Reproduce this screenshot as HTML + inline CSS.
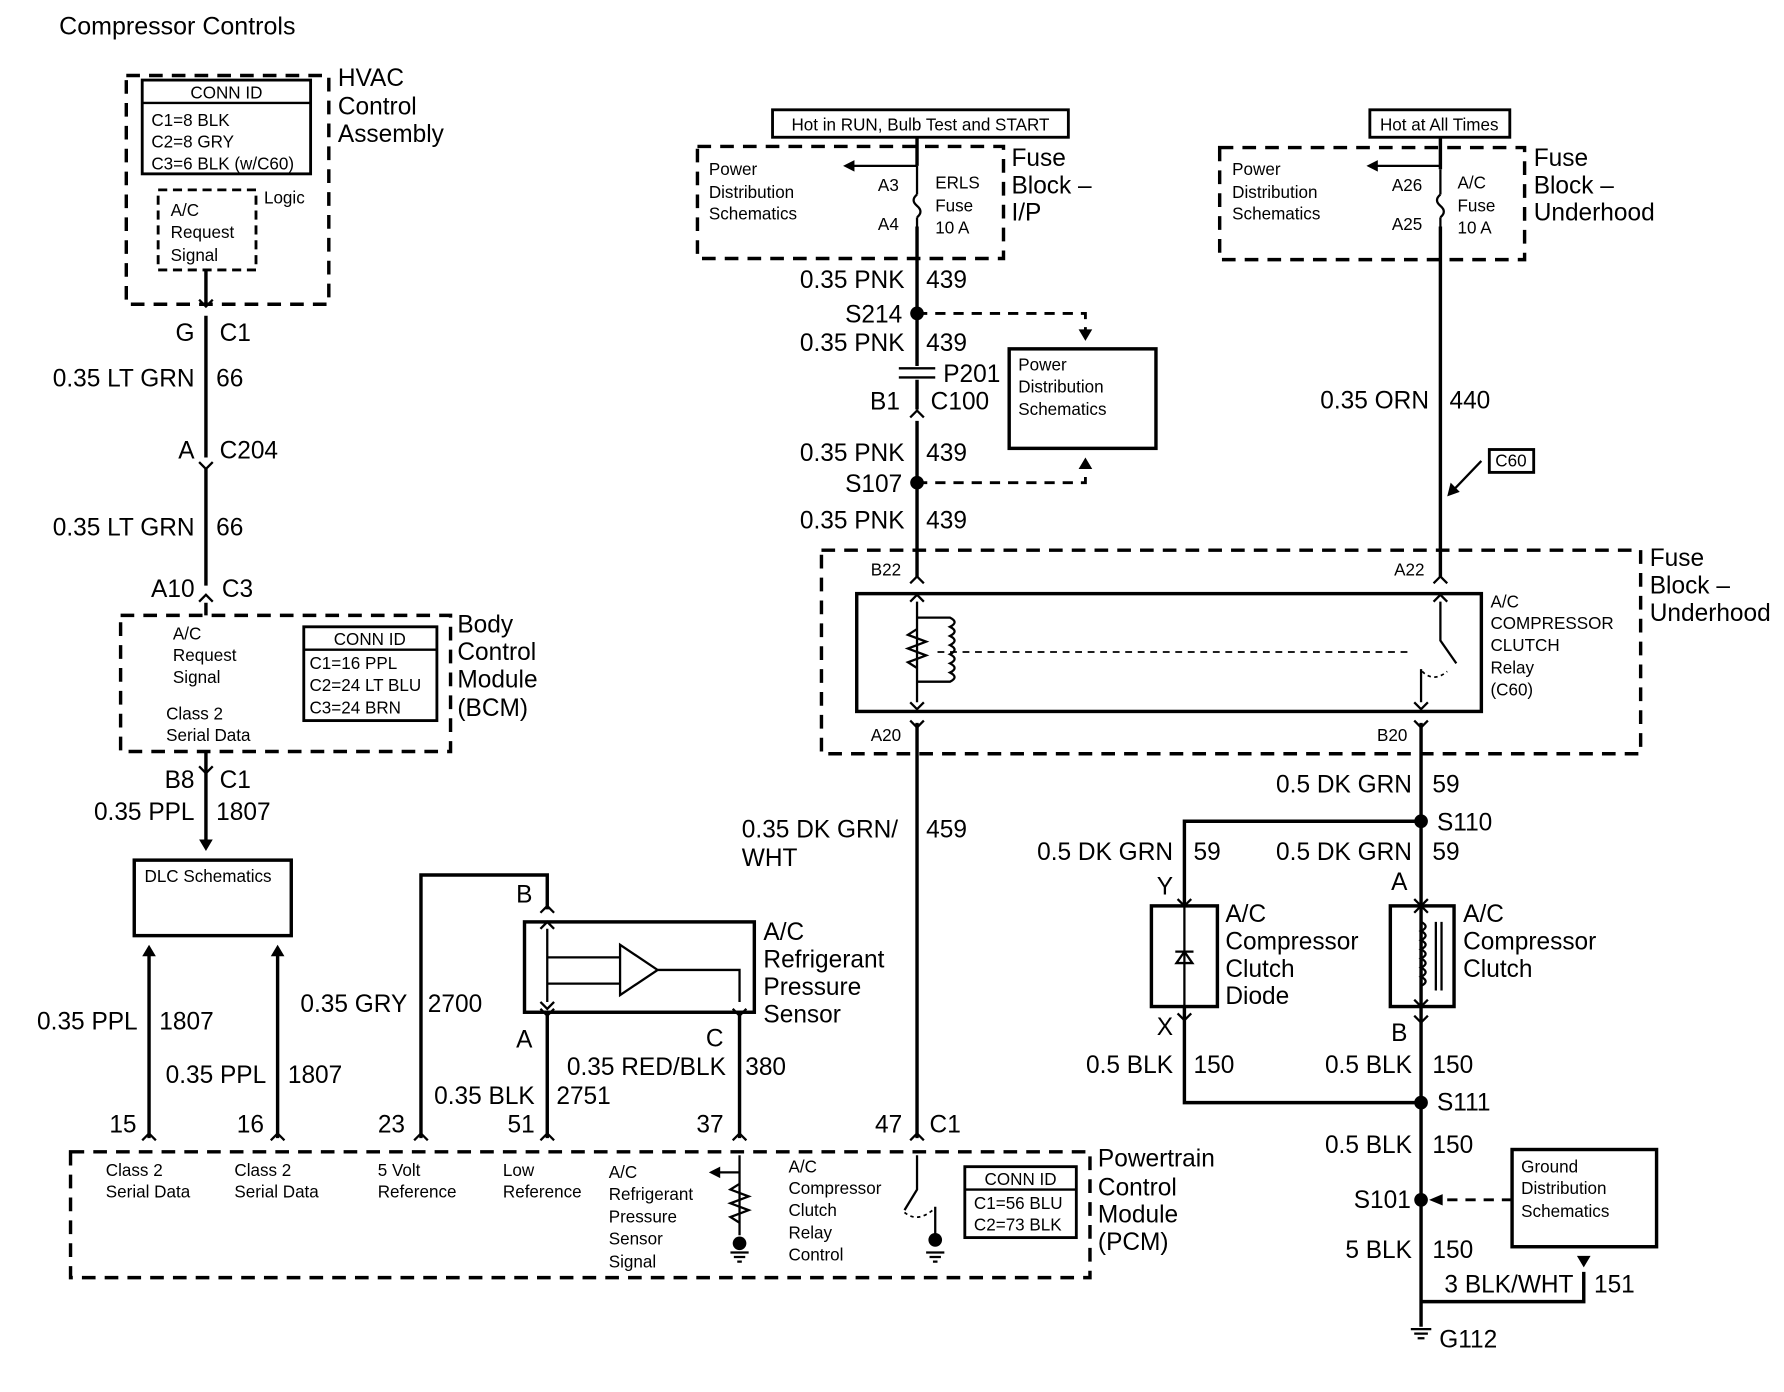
<!DOCTYPE html>
<html><head><meta charset="utf-8"><style>
html,body{margin:0;padding:0;background:#fff}
svg{display:block}
text{font-family:"Liberation Sans",Arial,sans-serif;fill:#000}
.L{font-size:21.5px}
.S{font-size:15px}
.r{text-anchor:end}
</style></head><body>
<svg width="1784" height="1392" viewBox="0 0 1568 1217" preserveAspectRatio="none" xmlns="http://www.w3.org/2000/svg">
<g fill="none" stroke="#000" stroke-width="3">
<g stroke-dasharray="12,8">
<rect x="111" y="66" width="178" height="200"/>
<rect x="139" y="166" width="86" height="70" stroke-width="2.5" stroke-dasharray="8,5"/>
<rect x="106" y="538" width="290" height="119"/>
<rect x="62" y="1007" width="896" height="110"/>
<rect x="613" y="128" width="269" height="98"/>
<rect x="1072" y="129" width="268" height="98"/>
<rect x="722" y="481" width="720" height="178"/>
<path d="M806 274H954V292M806 422H954V406M1329 1049H1262" stroke-width="2.5" stroke-dasharray="9,7"/>
<path d="M824 570H1240" stroke-width="1.5" stroke-dasharray="6,5"/>
</g>
<rect x="125" y="70" width="148" height="82" stroke-width="2.5"/>
<path d="M125 90H273" stroke-width="2"/>
<rect x="267" y="548" width="117" height="82" stroke-width="2.5"/>
<path d="M267 568H384" stroke-width="2"/>
<rect x="848" y="1020" width="98" height="62" stroke-width="2.5"/>
<path d="M848 1040H946" stroke-width="2"/>
<rect x="118" y="752" width="138" height="66"/>
<rect x="461" y="806" width="202" height="79"/>
<rect x="887" y="305" width="129" height="87"/>
<rect x="1329" y="1005" width="127" height="85"/>
<rect x="753" y="519" width="549" height="103"/>
<rect x="1012" y="792" width="58" height="88"/>
<rect x="1222" y="792" width="56" height="88"/>
<rect x="679" y="96" width="260" height="24" stroke-width="2.5"/>
<rect x="1204" y="96" width="123" height="24" stroke-width="2.5"/>
<rect x="1309" y="393" width="39" height="20" stroke-width="2.5"/>
<path d="M181 236V266M181 276V400M181 410V512M181 527V538M181 657V736"/>
<path d="M131 995V830M244 995V830"/>
<path d="M370 995V765H481V795"/>
<path d="M481 885V995M650 885V995"/>
<path d="M806 120V145M806 198V320M806 332V358M806 368V505M806 632V995"/>
<path d="M1266 120V148M1266 198V505"/>
<path d="M1249 632V1160M1249 718H1041V792M1041 880V964H1249"/>
<path d="M1249 1138H1392V1112"/>
<path d="M1302 403L1276 430" stroke-width="2"/>
<path d="M806 170q-6 5 0 10q6 5 0 10" stroke-width="2"/>
<path d="M1266 170q-6 5 0 10q6 5 0 10" stroke-width="2"/>
<path d="M806 145V170M806 190V198M1266 148V170M1266 190V198" stroke-width="2"/>
<path d="M806 145H750M1266 145H1210" stroke-width="2"/>
<g stroke-width="2">
<path d="M175 262l6 6 6-6M175 404l6 6 6-6M175 526l6-6 6 6M175 670l6 6 6-6"/>
<path d="M125 997l6-6 6 6M238 997l6-6 6 6M364 997l6-6 6 6M475 997l6-6 6 6M644 997l6-6 6 6M800 997l6-6 6 6"/>
<path d="M475 798l6-6 6 6M475 812l6-6 6 6M475 882l6 6 6-6M644 882l6 6 6-6M475 876l6 6 6-6"/>
<path d="M800 365l6-6 6 6M800 510l6-6 6 6M1260 510l6-6 6 6M800 526l6-6 6 6M800 630l6 6 6-6M1243 630l6 6 6-6M1243 614l6 6 6-6M800 614l6 6 6-6"/>
<path d="M1035 786l6 6 6-6M1243 786l6 6 6-6M1243 798l6-6 6 6M1243 874l6 6 6-6M1243 888l6 6 6-6M1035 886l6 6 6-6"/>
<path d="M1260 526l6-6 6 6"/>
</g>
<path d="M481 812V876M481 837H545M481 860H545M545 826V870L578 848ZM578 848H650V876" stroke-width="2"/>
<path d="M790 322h32M790 330h32" stroke-width="2"/>
<path d="M806 526V614M806 540H835q8 4 0 8q8 4 0 8q8 4 0 8q8 4 0 8q8 4 0 8q8 4 0 8q8 4 0 8H806" stroke-width="2"/>
<path d="M806 550l-8 5 16 6-16 6 16 6-16 6 8 5" stroke-width="2"/>
<path d="M1266 526V560L1280 580M1249 585V614" stroke-width="2"/>
<path d="M1250 587q10 10 22 0" stroke-width="1.5" stroke-dasharray="3,3"/>
<path d="M1249 798V874M1249 806q8 4 0 8q8 4 0 8q8 4 0 8q8 4 0 8q8 4 0 8q8 4 0 8q8 4 0 8M1262 806V866M1267 806V866" stroke-width="2"/>
<path d="M1041 792V880M1033 832h16M1041 832l-7 10h14z" stroke-width="2"/>
<path d="M650 1010V1080M650 1025H630" stroke-width="2"/>
<path d="M650 1035l-8 5 16 6-16 6 16 6-16 6 8 5" stroke-width="2"/>
<path d="M806 1010V1040L795 1058M822 1055V1085" stroke-width="2"/>
<path d="M795 1060q12 10 27 -4" stroke-width="1.5" stroke-dasharray="3,3"/>
<path d="M642 1095h16M645 1099h10M648 1103h4M814 1095h16M817 1099h10M820 1103h4M1240 1162h18M1243 1166h12M1246 1170h6" stroke-width="2"/>
</g>
<g fill="#000">
<circle cx="806" cy="274" r="6"/><circle cx="806" cy="422" r="6"/>
<circle cx="1249" cy="718" r="6"/><circle cx="1249" cy="964" r="6"/><circle cx="1249" cy="1049" r="6"/>
<circle cx="650" cy="1087" r="6"/><circle cx="822" cy="1084" r="6"/>
<path d="M181 744l-6-10h12zM131 826l-6 10h12zM244 826l-6 10h12zM954 298l-6-10h12zM954 400l-6 10h12zM741 145l10-5v10zM1201 145l10-5v10zM1272 434l3-12 8 8zM1256 1049l12-5v10zM1392 1108l-6-10h12zM623 1025l10-5v10z"/>
</g>
<text x="52" y="30" style="font-size:22px">Compressor Controls</text>
<text x="297" y="75" class="L">HVAC</text><text x="297" y="100" class="L">Control</text><text x="297" y="124" class="L">Assembly</text>
<text x="199" y="86" class="S" text-anchor="middle">CONN ID</text>
<text x="133" y="110" class="S">C1=8 BLK</text><text x="133" y="129" class="S">C2=8 GRY</text><text x="133" y="148" class="S">C3=6 BLK (w/C60)</text>
<text x="232" y="178" class="S">Logic</text>
<text x="150" y="189" class="S">A/C</text><text x="150" y="208" class="S">Request</text><text x="150" y="228" class="S">Signal</text>
<text x="171" y="298" class="L r">G</text><text x="193" y="298" class="L">C1</text>
<text x="171" y="338" class="L r">0.35 LT GRN</text><text x="190" y="338" class="L">66</text>
<text x="171" y="401" class="L r">A</text><text x="193" y="401" class="L">C204</text>
<text x="171" y="468" class="L r">0.35 LT GRN</text><text x="190" y="468" class="L">66</text>
<text x="171" y="522" class="L r">A10</text><text x="195" y="522" class="L">C3</text>
<text x="152" y="559" class="S">A/C</text><text x="152" y="578" class="S">Request</text><text x="152" y="597" class="S">Signal</text>
<text x="146" y="629" class="S">Class 2</text><text x="146" y="648" class="S">Serial Data</text>
<text x="325" y="564" class="S" text-anchor="middle">CONN ID</text>
<text x="272" y="585" class="S">C1=16 PPL</text><text x="272" y="604" class="S">C2=24 LT BLU</text><text x="272" y="624" class="S">C3=24 BRN</text>
<text x="402" y="553" class="L">Body</text><text x="402" y="577" class="L">Control</text><text x="402" y="601" class="L">Module</text><text x="402" y="626" class="L">(BCM)</text>
<text x="171" y="689" class="L r">B8</text><text x="193" y="689" class="L">C1</text>
<text x="171" y="717" class="L r">0.35 PPL</text><text x="190" y="717" class="L">1807</text>
<text x="127" y="771" class="S">DLC Schematics</text>
<text x="121" y="900" class="L r">0.35 PPL</text><text x="140" y="900" class="L">1807</text>
<text x="234" y="947" class="L r">0.35 PPL</text><text x="253" y="947" class="L">1807</text>
<text x="358" y="885" class="L r">0.35 GRY</text><text x="376" y="885" class="L">2700</text>
<text x="468" y="789" class="L r">B</text>
<text x="468" y="916" class="L r">A</text><text x="636" y="915" class="L r">C</text>
<text x="470" y="965" class="L r">0.35 BLK</text><text x="489" y="965" class="L">2751</text>
<text x="638" y="940" class="L r">0.35 RED/BLK</text><text x="655" y="940" class="L">380</text>
<text x="671" y="822" class="L">A/C</text><text x="671" y="846" class="L">Refrigerant</text><text x="671" y="870" class="L">Pressure</text><text x="671" y="894" class="L">Sensor</text>
<text x="120" y="990" class="L r">15</text><text x="232" y="990" class="L r">16</text><text x="356" y="990" class="L r">23</text><text x="470" y="990" class="L r">51</text><text x="636" y="990" class="L r">37</text><text x="793" y="990" class="L r">47</text><text x="817" y="990" class="L">C1</text>
<text x="93" y="1028" class="S">Class 2</text><text x="93" y="1047" class="S">Serial Data</text>
<text x="206" y="1028" class="S">Class 2</text><text x="206" y="1047" class="S">Serial Data</text>
<text x="332" y="1028" class="S">5 Volt</text><text x="332" y="1047" class="S">Reference</text>
<text x="442" y="1028" class="S">Low</text><text x="442" y="1047" class="S">Reference</text>
<text x="535" y="1030" class="S">A/C</text><text x="535" y="1049" class="S">Refrigerant</text><text x="535" y="1069" class="S">Pressure</text><text x="535" y="1088" class="S">Sensor</text><text x="535" y="1108" class="S">Signal</text>
<text x="693" y="1025" class="S">A/C</text><text x="693" y="1044" class="S">Compressor</text><text x="693" y="1063" class="S">Clutch</text><text x="693" y="1083" class="S">Relay</text><text x="693" y="1102" class="S">Control</text>
<text x="897" y="1036" class="S" text-anchor="middle">CONN ID</text>
<text x="856" y="1057" class="S">C1=56 BLU</text><text x="856" y="1076" class="S">C2=73 BLK</text>
<text x="965" y="1020" class="L">Powertrain</text><text x="965" y="1045" class="L">Control</text><text x="965" y="1069" class="L">Module</text><text x="965" y="1093" class="L">(PCM)</text>
<text x="809" y="114" class="S" text-anchor="middle">Hot in RUN, Bulb Test and START</text>
<text x="1265" y="114" class="S" text-anchor="middle">Hot at All Times</text>
<text x="623" y="153" class="S">Power</text><text x="623" y="173" class="S">Distribution</text><text x="623" y="192" class="S">Schematics</text>
<text x="790" y="167" class="S r">A3</text><text x="790" y="201" class="S r">A4</text>
<text x="822" y="165" class="S">ERLS</text><text x="822" y="185" class="S">Fuse</text><text x="822" y="204" class="S">10 A</text>
<text x="889" y="145" class="L">Fuse</text><text x="889" y="169" class="L">Block –</text><text x="889" y="193" class="L">I/P</text>
<text x="1083" y="153" class="S">Power</text><text x="1083" y="173" class="S">Distribution</text><text x="1083" y="192" class="S">Schematics</text>
<text x="1250" y="167" class="S r">A26</text><text x="1250" y="201" class="S r">A25</text>
<text x="1281" y="165" class="S">A/C</text><text x="1281" y="185" class="S">Fuse</text><text x="1281" y="204" class="S">10 A</text>
<text x="1348" y="145" class="L">Fuse</text><text x="1348" y="169" class="L">Block –</text><text x="1348" y="193" class="L">Underhood</text>
<text x="795" y="252" class="L r">0.35 PNK</text><text x="814" y="252" class="L">439</text>
<text x="793" y="282" class="L r">S214</text>
<text x="795" y="307" class="L r">0.35 PNK</text><text x="814" y="307" class="L">439</text>
<text x="829" y="334" class="L">P201</text>
<text x="791" y="358" class="L r">B1</text><text x="818" y="358" class="L">C100</text>
<text x="795" y="403" class="L r">0.35 PNK</text><text x="814" y="403" class="L">439</text>
<text x="793" y="430" class="L r">S107</text>
<text x="795" y="462" class="L r">0.35 PNK</text><text x="814" y="462" class="L">439</text>
<text x="895" y="324" class="S">Power</text><text x="895" y="343" class="S">Distribution</text><text x="895" y="363" class="S">Schematics</text>
<text x="1256" y="357" class="L r">0.35 ORN</text><text x="1274" y="357" class="L">440</text>
<text x="1328" y="408" class="S" text-anchor="middle">C60</text>
<text x="1450" y="495" class="L">Fuse</text><text x="1450" y="519" class="L">Block –</text><text x="1450" y="543" class="L">Underhood</text>
<text x="792" y="503" class="S r">B22</text><text x="1252" y="503" class="S r">A22</text>
<text x="792" y="648" class="S r">A20</text><text x="1237" y="648" class="S r">B20</text>
<text x="1310" y="531" class="S">A/C</text><text x="1310" y="550" class="S">COMPRESSOR</text><text x="1310" y="569" class="S">CLUTCH</text><text x="1310" y="589" class="S">Relay</text><text x="1310" y="608" class="S">(C60)</text>
<text x="652" y="732" class="L">0.35 DK GRN/</text><text x="652" y="757" class="L">WHT</text><text x="814" y="732" class="L">459</text>
<text x="1241" y="693" class="L r">0.5 DK GRN</text><text x="1259" y="693" class="L">59</text>
<text x="1263" y="726" class="L">S110</text>
<text x="1031" y="752" class="L r">0.5 DK GRN</text><text x="1049" y="752" class="L">59</text>
<text x="1241" y="752" class="L r">0.5 DK GRN</text><text x="1259" y="752" class="L">59</text>
<text x="1031" y="782" class="L r">Y</text><text x="1237" y="778" class="L r">A</text>
<text x="1077" y="806" class="L">A/C</text><text x="1077" y="830" class="L">Compressor</text><text x="1077" y="854" class="L">Clutch</text><text x="1077" y="878" class="L">Diode</text>
<text x="1286" y="806" class="L">A/C</text><text x="1286" y="830" class="L">Compressor</text><text x="1286" y="854" class="L">Clutch</text>
<text x="1031" y="905" class="L r">X</text><text x="1237" y="910" class="L r">B</text>
<text x="1031" y="938" class="L r">0.5 BLK</text><text x="1049" y="938" class="L">150</text>
<text x="1241" y="938" class="L r">0.5 BLK</text><text x="1259" y="938" class="L">150</text>
<text x="1263" y="971" class="L">S111</text>
<text x="1241" y="1008" class="L r">0.5 BLK</text><text x="1259" y="1008" class="L">150</text>
<text x="1240" y="1056" class="L r">S101</text>
<text x="1337" y="1025" class="S">Ground</text><text x="1337" y="1044" class="S">Distribution</text><text x="1337" y="1064" class="S">Schematics</text>
<text x="1241" y="1100" class="L r">5 BLK</text><text x="1259" y="1100" class="L">150</text>
<text x="1383" y="1130" class="L r">3 BLK/WHT</text><text x="1401" y="1130" class="L">151</text>
<text x="1265" y="1178" class="L">G112</text>
</svg>
</body></html>
